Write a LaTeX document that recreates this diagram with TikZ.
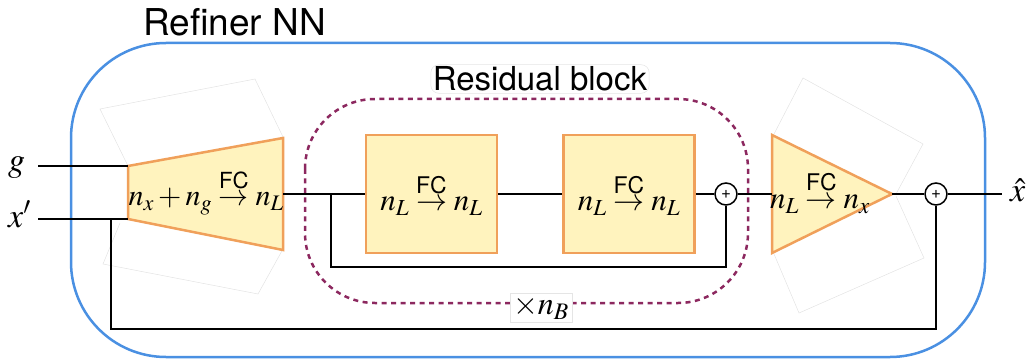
\documentclass[tikz,border=0pt]{standalone}
\usepackage{amsmath}
\usepackage{mathptmx}
\usepackage{fontspec}
\setsansfont{TeX Gyre Heros}
\definecolor{fcyellow}{RGB}{255,243,190}
\definecolor{fcorange}{RGB}{240,160,90}
\definecolor{frameblue}{RGB}{74,144,226}
\definecolor{resid}{RGB}{140,40,95}
\newcommand{\fcarrow}{\stackrel{\textsf{FC}}{\rightarrow}}
\begin{document}
\begin{tikzpicture}[x=1pt,y=-1pt,
  wire/.style={draw=black,line width=2pt},
  fcshape/.style={draw=fcorange,fill=fcyellow,line width=2.5pt,line join=miter},
  fcbox/.style={fcshape,minimum width=131pt,minimum height=118pt,inner sep=0pt},
  sumnode/.style={circle,draw=black,fill=white,line width=1.5pt,minimum size=22pt,inner sep=0pt,font=\sffamily\fontsize{17}{17}\selectfont},
  ghost/.style={draw=gray!22,line width=0.5pt},
  mathlbl/.style={font=\fontsize{31}{33}\selectfont,inner sep=0pt},
  biglbl/.style={font=\fontsize{34}{36}\selectfont,inner sep=0pt},
  frame/.style={draw=frameblue,line width=2.5pt,rounded corners=95pt},
  resblock/.style={draw=resid,line width=2.5pt,dash pattern=on 5pt off 4.5pt,rounded corners=70pt},
  tag/.style={fill=white,draw=gray!20,line width=0.5pt}
]
\useasboundingbox (0,0) rectangle (1032,363);

% outer frame and title
\draw[frame] (71,43) rectangle (985,357);
\node[anchor=base west,font=\sffamily\fontsize{37}{40}\selectfont,inner sep=0pt] (title) at (143,36) {Refiner NN};

% faint ghost outlines
\draw[ghost] (128,166) -- (100,109) -- (255,79) -- (283,137);
\draw[ghost] (120,223) -- (103,264) -- (258,294) -- (283,249);
\draw[ghost] (774,134) -- (803,78) -- (923,144) -- (896,194);
\draw[ghost] (896,196) -- (924,258) -- (799,313) -- (774,254);

% residual block outline
\draw[resblock] (305,99) rectangle (748,303);
\node[tag,rounded corners=8pt,inner sep=2pt,font=\sffamily\fontsize{33}{35}\selectfont] (reslbl) at (540,79) {Residual block};
\node[tag,inner sep=3pt,font=\fontsize{32}{34}\selectfont] (rep) at (541,308) {$\times n_B$};

% encoder trapezoid
\draw[fcshape] (128,166) -- (283,138) -- (283,250) -- (128,219) -- cycle;
\coordinate (encG) at (128,166);
\coordinate (encX) at (128,219);
\coordinate (encOut) at (283,194);
\node[font=\fontsize{30}{32}\selectfont,inner sep=0pt] (enctxt) at (206,192) {$n_x+n_g\fcarrow n_L$};

% residual FC boxes
\node[fcbox,mathlbl] (b1) at (431.5,194) {$n_L\fcarrow n_L$};
\node[fcbox,mathlbl] (b2) at (629,194) {$n_L\fcarrow n_L$};

% decoder triangle
\draw[fcshape] (772,135) -- (892,194) -- (772,253) -- cycle;
\coordinate (decIn) at (772,194);
\coordinate (decOut) at (892,194);
\node[mathlbl] (dectxt) at (820,192) {$n_L\fcarrow n_x$};

% sums
\node[sumnode] (p1) at (726,194) {+};
\node[sumnode] (p2) at (936,194) {+};

% inputs / output
\node[biglbl,anchor=base west] (g) at (8,172) {$g$};
\node[biglbl,anchor=base west] (xp) at (8,227) {$x'$};
\node[biglbl,anchor=base west] (xh) at (1010,202) {$\hat{x}$};
\coordinate (gin) at (38,166);
\coordinate (xin) at (38,219);
\coordinate (xout) at (1002,194);
\coordinate (br1) at (331,194);
\coordinate (skip1) at (331,267);
\coordinate (br2) at (111,219);
\coordinate (skip2) at (111,329);

% wires
\draw[wire] (gin) -- (encG);
\draw[wire] (xin) -- (encX);
\draw[wire] (encOut) -- (b1.west);
\draw[wire] (b1.east) -- (b2.west);
\draw[wire] (b2.east) -- (p1.west);
\draw[wire] (p1.east) -- (decIn);
\draw[wire] (decOut) -- (p2.west);
\draw[wire] (p2.east) -- (xout);
\draw[wire] (br1) -- (skip1) -| (p1.south);
\draw[wire] (br2) -- (skip2) -| (p2.south);
\end{tikzpicture}
\end{document}
